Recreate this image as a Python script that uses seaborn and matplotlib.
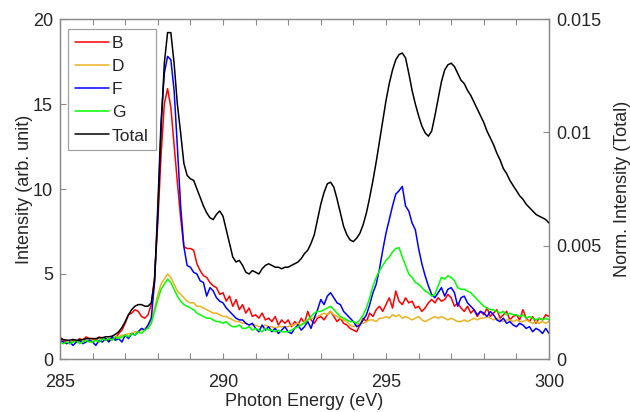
import numpy as np
import pandas as pd
import matplotlib
matplotlib.use("Agg")
import matplotlib.pyplot as plt
import seaborn as sns

# ---------------- data ----------------
energy = np.round(np.arange(285.0, 300.05, 0.1), 1)  # photon energy grid (eV)

B = [1.3, 1.1, 1.0, 0.9, 1.1, 1.0, 1.2, 1.1, 1.3, 1.2,
     1.2, 1.1, 1.3, 1.2, 1.2, 1.1, 1.3, 1.2, 1.5, 1.7,
     2.1, 2.6, 2.7, 2.9, 2.8, 2.5, 2.4, 2.6, 3.2, 4.8,
     8.0, 12.0, 15.0, 15.9, 14.8, 12.6, 10.4, 8.3, 6.6, 6.5,
     6.5, 6.4, 5.6, 5.2, 4.9, 4.8, 4.5, 4.3, 4.2, 3.8,
     3.9, 3.4, 3.7, 3.1, 3.5, 2.9, 3.2, 2.7, 3.0, 2.5,
     2.6, 2.4, 2.7, 2.3, 2.4, 2.2, 2.5, 2.0, 2.3, 2.1,
     2.3, 1.9, 2.2, 2.0, 2.4, 2.1, 2.8, 2.3, 2.1, 2.4,
     2.5, 2.3, 2.6, 2.8, 2.5, 2.2, 2.4, 2.1, 2.0, 1.8,
     1.7, 1.6, 2.0, 2.4, 2.2, 2.7, 2.5, 2.9, 3.1, 2.8,
     3.2, 3.6, 3.0, 4.0, 3.4, 3.2, 3.6, 3.3, 3.4, 3.0,
     3.1, 2.8, 3.0, 3.3, 3.5, 3.3, 3.6, 3.4, 3.5, 3.8,
     3.6, 3.1, 3.3, 3.0, 2.8, 3.1, 2.7, 2.9, 2.5, 2.8,
     2.6, 3.0, 2.5, 2.7, 2.9, 2.4, 2.6, 2.8, 2.3, 2.5,
     2.6, 2.3, 2.9, 2.4, 2.2, 2.5, 2.1, 2.4, 2.3, 2.6,
     2.5]

D = [1.0, 1.0, 0.9, 1.0, 1.0, 1.1, 1.0, 1.1, 1.1, 1.0,
     1.1, 1.1, 1.0, 1.2, 1.1, 1.2, 1.2, 1.3, 1.3, 1.4,
     1.4, 1.5, 1.5, 1.6, 1.6, 1.7, 1.8, 1.9, 2.2, 3.0,
     3.8, 4.4, 4.7, 5.0, 4.8, 4.4, 4.0, 3.8, 3.6, 3.4,
     3.3, 3.3, 3.1, 3.1, 3.0, 2.9, 2.8, 2.7, 2.7, 2.6,
     2.5, 2.5, 2.4, 2.3, 2.2, 2.2, 2.1, 2.1, 2.0, 2.0,
     2.0, 1.9, 1.9, 2.0, 1.9, 1.9, 1.8, 1.9, 1.9, 1.9,
     1.9, 2.0, 2.0, 2.1, 2.0, 2.2, 2.3, 2.4, 2.4, 2.5,
     2.6, 2.7, 2.6, 2.8, 2.6, 2.5, 2.4, 2.3, 2.2, 2.0,
     1.9, 2.0, 2.1, 2.1, 2.2, 2.3, 2.3, 2.2, 2.4, 2.4,
     2.5, 2.4, 2.6, 2.5, 2.6, 2.4, 2.5, 2.4, 2.3, 2.4,
     2.5, 2.3, 2.2, 2.3, 2.4, 2.5, 2.4, 2.5, 2.4, 2.3,
     2.4, 2.3, 2.2, 2.2, 2.3, 2.2, 2.3, 2.4, 2.3, 2.4,
     2.4, 2.5, 2.4, 2.3, 2.4, 2.3, 2.2, 2.3, 2.3, 2.2,
     2.3, 2.2, 2.2, 2.3, 2.2, 2.1, 2.2, 2.1, 2.2, 2.1,
     2.2]

F = [1.1, 1.0, 0.9, 1.0, 0.8, 1.0, 1.1, 0.9, 1.0, 1.1,
     1.0, 0.8, 1.1, 1.0, 1.2, 1.0, 1.3, 1.1, 1.2, 1.0,
     1.4, 1.2, 1.5, 1.4, 1.6, 1.8, 1.7, 2.0, 2.4, 4.5,
     9.0, 14.0, 16.8, 17.8, 17.6, 15.8, 12.5, 9.0, 6.6, 5.5,
     5.4, 5.1, 5.0, 4.6, 4.5, 3.7, 4.2, 4.0, 3.6, 3.4,
     3.3, 3.0, 2.8, 2.6, 2.4, 2.3, 2.3, 2.1, 2.0, 2.1,
     1.8, 1.6, 2.0, 1.7, 1.9, 1.6, 1.8, 1.5, 1.7, 1.9,
     1.6, 1.5, 1.8, 2.0, 1.7, 1.9, 2.2, 1.8, 2.4, 2.9,
     3.5, 3.2, 3.7, 3.9, 3.6, 3.3, 3.2, 2.8, 2.6, 2.4,
     2.2, 1.9, 2.0, 2.3, 2.6, 3.2, 3.9, 4.4, 5.3, 6.4,
     7.4, 8.2, 9.0, 9.7, 9.9, 10.15, 9.0, 8.7, 8.0, 7.6,
     6.5, 5.6, 4.9, 4.3, 3.8, 3.6, 3.9, 4.2, 3.7, 4.1,
     4.2, 3.9, 3.1, 3.6, 3.7, 3.3, 3.1, 2.9, 2.6, 2.8,
     2.7, 2.5, 2.8, 2.6, 2.3, 2.2, 2.4, 2.1, 2.2, 2.0,
     1.9, 2.1, 2.0, 1.8, 1.9, 1.6, 1.8, 1.7, 1.5, 1.8,
     1.5]

G = [1.0, 0.9, 1.0, 0.9, 1.0, 1.1, 0.9, 1.0, 1.1, 1.0,
     1.0, 1.1, 1.0, 1.2, 1.1, 1.2, 1.1, 1.3, 1.2, 1.3,
     1.4, 1.3, 1.5, 1.4, 1.6, 1.5, 1.7, 1.8, 2.1, 2.8,
     3.5, 4.1, 4.4, 4.7, 4.5, 4.1, 3.7, 3.4, 3.2, 3.1,
     3.0, 2.9, 2.7, 2.6, 2.5, 2.4, 2.4, 2.3, 2.2, 2.2,
     2.1, 2.2, 2.0, 1.9, 1.9, 2.0, 1.8, 1.8, 1.9, 1.7,
     1.8, 1.7, 1.6, 1.8, 1.7, 1.7, 1.6, 1.7, 1.6, 1.6,
     1.6, 1.7, 1.8, 1.9, 2.0, 2.1, 2.3, 2.5, 2.7, 2.8,
     2.8, 2.9, 3.0, 3.1, 2.9, 2.7, 2.5, 2.4, 2.3, 2.2,
     2.2, 2.1, 2.3, 2.6, 3.0, 3.6, 4.3, 4.8, 5.2, 5.5,
     5.8, 6.0, 6.3, 6.5, 6.55, 6.0, 5.5, 5.0, 4.8, 4.5,
     4.4, 4.2, 4.0, 3.9, 3.7, 3.8, 4.3, 4.8, 4.7, 4.9,
     4.8, 4.6, 4.2, 4.1, 4.1, 4.0, 3.9, 3.7, 3.5, 3.3,
     3.1, 3.0, 2.9, 2.9, 2.8, 2.7, 2.8, 2.6, 2.7, 2.6,
     2.6, 2.5, 2.6, 2.4, 2.5, 2.4, 2.3, 2.4, 2.3, 2.4,
     2.3]

# normalized total intensity, in units of 1e-3
total_milli = [0.90, 0.86, 0.83, 0.83, 0.86, 0.83, 0.83, 0.86, 0.90, 0.90,
               0.90, 0.90, 0.94, 0.94, 0.98, 0.98, 1.01, 1.09, 1.20, 1.39,
               1.65, 1.95, 2.18, 2.33, 2.40, 2.40, 2.33, 2.33, 2.48, 3.45,
               6.38, 10.13, 13.05, 14.40, 14.40, 13.05, 11.25, 9.98, 8.63, 8.10,
               7.95, 7.88, 7.50, 7.13, 6.75, 6.45, 6.23, 6.15, 6.38, 6.53,
               6.30, 5.70, 5.10, 4.50, 4.28, 4.35, 4.13, 3.83, 3.75, 3.90,
               3.83, 3.75, 3.98, 4.13, 4.20, 4.13, 4.05, 4.05, 3.98, 4.05,
               4.05, 4.13, 4.20, 4.28, 4.43, 4.65, 4.80, 5.10, 5.48, 6.15,
               6.83, 7.35, 7.73, 7.80, 7.58, 7.05, 6.45, 5.85, 5.48, 5.25,
               5.18, 5.33, 5.55, 5.93, 6.45, 7.13, 7.88, 8.70, 9.60, 10.50,
               11.40, 12.15, 12.75, 13.20, 13.43, 13.50, 13.28, 12.60, 11.85, 11.25,
               10.73, 10.28, 9.98, 9.83, 10.05, 10.73, 11.48, 12.23, 12.75, 12.98,
               13.05, 12.90, 12.60, 12.30, 12.15, 11.85, 11.63, 11.33, 11.03, 10.73,
               10.43, 10.05, 9.75, 9.45, 9.08, 8.78, 8.40, 8.18, 7.88, 7.65,
               7.43, 7.20, 7.05, 6.83, 6.68, 6.53, 6.38, 6.30, 6.23, 6.15,
               6.00]

series_names = ["B", "D", "F", "G"]
series_colors = ["#FF0000", "#EDB120", "#0000FF", "#00FF00"]
x_ticks = [285, 290, 295, 300]
y_ticks = [0, 5, 10, 15, 20]
y2_ticks = [0, 0.005, 0.01, 0.015]
y2_labels = ["0", "0.005", "0.01", "0.015"]

# ---------------- frames ----------------
df = pd.DataFrame({
    "energy": np.concatenate([energy] * 4),
    "intensity": np.concatenate([B, D, F, G]),
    "sample": np.repeat(series_names, len(energy)),
})
df_total = pd.DataFrame({"energy": energy,
                         "norm": np.array(total_milli) * 1e-3})

# ---------------- style ----------------
sns.set_theme(style="white")
plt.rcParams["font.family"] = ["Liberation Sans", "DejaVu Sans"]
spine_col = "#8a8a8a"
text_col = "#262626"

fig = plt.figure(figsize=(6.3, 4.12), dpi=100)
ax = fig.add_axes([60 / 630, 53 / 412, 489 / 630, 340 / 412])
ax2 = ax.twinx()

sns.lineplot(data=df, x="energy", y="intensity", hue="sample",
             hue_order=series_names, palette=series_colors,
             estimator=None, sort=False, legend=False, lw=1.1, ax=ax)
sns.lineplot(data=df_total, x="energy", y="norm", color="black",
             estimator=None, sort=False, legend=False, lw=1.1, ax=ax2)

ax.set_xlim(285, 300)
ax.set_ylim(0, 20)
ax2.set_ylim(0, 0.015)
ax.set_xticks(x_ticks)
ax.set_xticks(np.arange(285, 301, 1), minor=True)
ax.set_yticks(y_ticks)
ax2.set_yticks(y2_ticks)
ax2.set_yticklabels(y2_labels)

fs = 13
ax.set_xlabel("Photon Energy (eV)", fontsize=fs, color=text_col, labelpad=1)
ax.set_ylabel("Intensity (arb. unit)", fontsize=fs, color=text_col, labelpad=0)
ax2.set_ylabel("Norm. Intensity (Total)", fontsize=fs, color=text_col, labelpad=9.5)

for a in (ax, ax2):
    for s in a.spines.values():
        s.set_color(spine_col)
        s.set_linewidth(0.9)
        s.set_visible(True)
ax.tick_params(axis="both", which="both", direction="in", colors=spine_col,
               labelcolor=text_col, labelsize=fs, length=4, width=0.8,
               top=True, bottom=True, left=True, right=False)
ax.tick_params(axis="x", which="minor", length=4)
ax.tick_params(axis="x", which="major", pad=11)
ax.tick_params(axis="y", which="major", pad=5)
ax2.tick_params(axis="y", direction="in", colors=spine_col, labelcolor=text_col,
                labelsize=fs, length=4, width=0.8, right=True, left=False, pad=5)

handles = ax.get_lines()[:4] + [ax2.get_lines()[0]]
labels = series_names + ["Total"]
leg = ax.legend(handles, labels, loc="upper left",
                bbox_to_anchor=(0.016, 0.971), borderaxespad=0,
                fontsize=12.5, frameon=True, fancybox=False,
                handlelength=1.95, handletextpad=0.2, labelspacing=0.46,
                borderpad=0.4, edgecolor=spine_col)
leg.get_frame().set_linewidth(0.9)
for t in leg.get_texts():
    t.set_color(text_col)

fig.savefig("out.png", dpi=100)
